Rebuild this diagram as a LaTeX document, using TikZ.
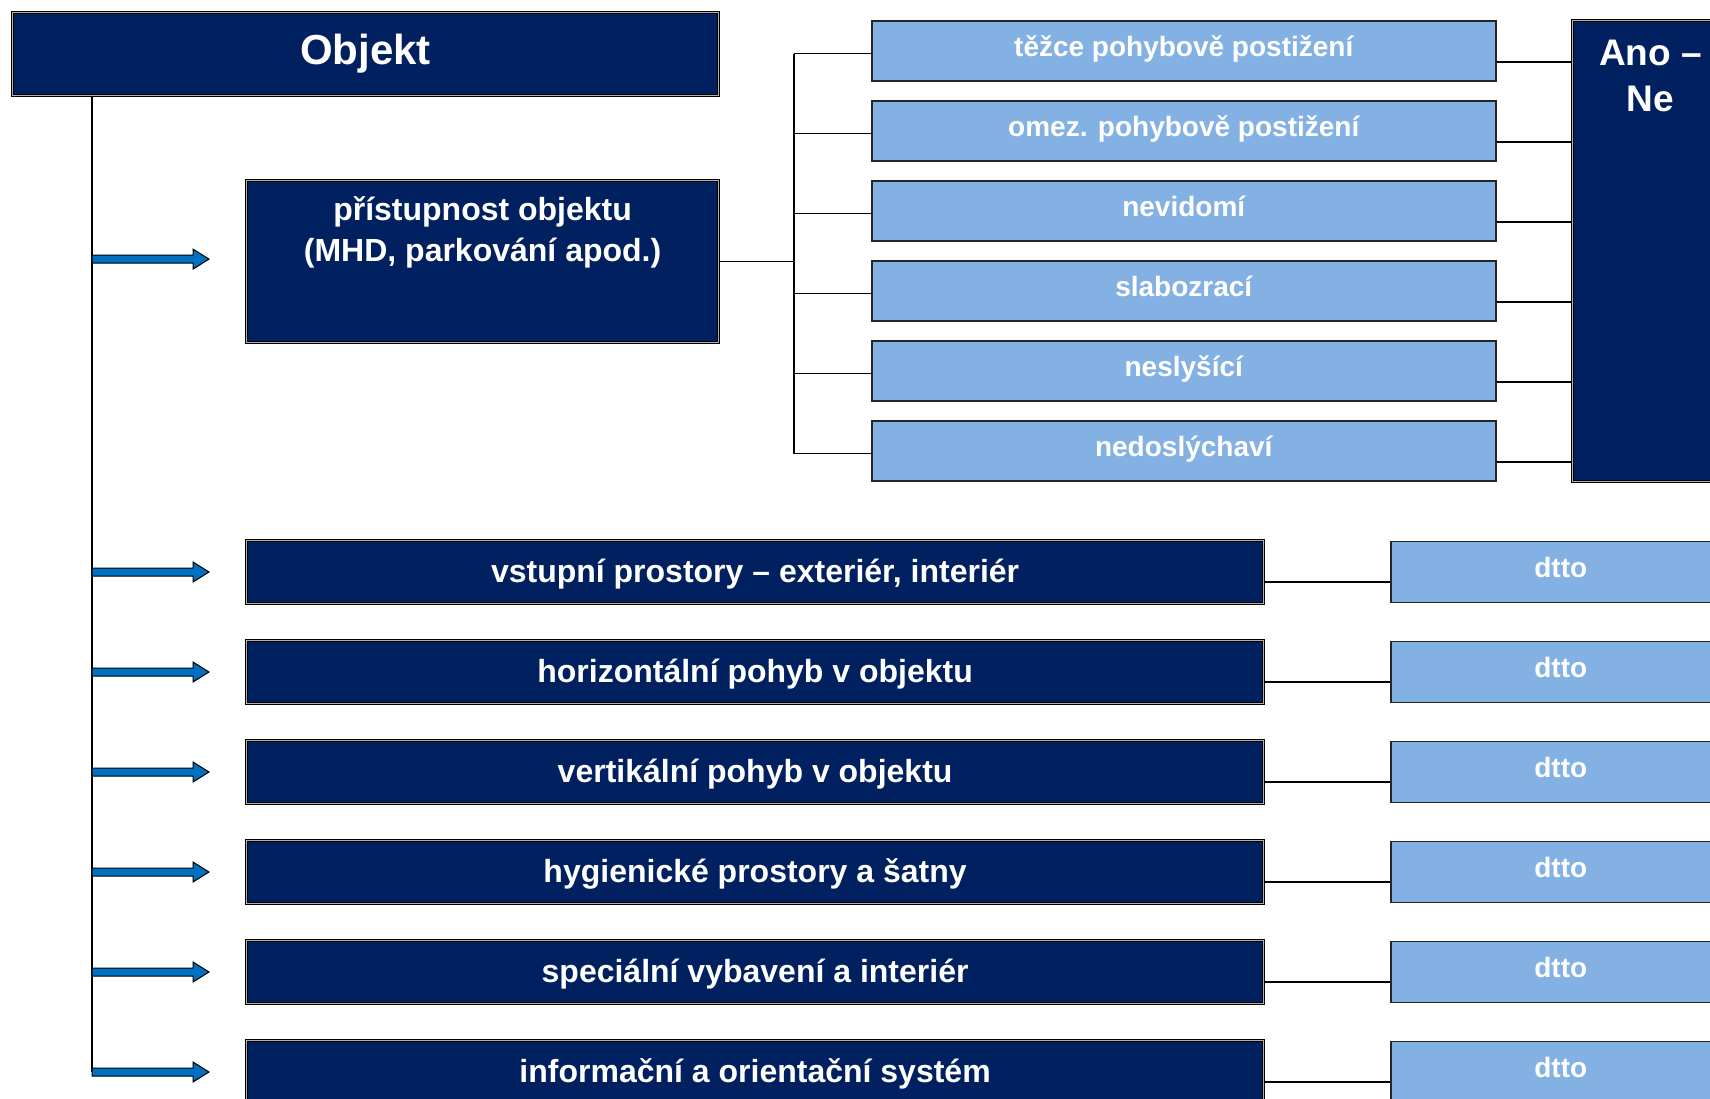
\documentclass[tikz,border=0pt]{standalone}
\usepackage{fontspec}
\setmainfont{Liberation Sans}
\usetikzlibrary{positioning,calc}
\definecolor{navy}{RGB}{0,32,96}
\definecolor{lightblue}{RGB}{131,177,227}
\definecolor{arrowblue}{RGB}{0,112,192}

\tikzset{
	darkbox/.style={draw=black, line width=1.2pt, double=gray!60, double distance=0.8pt,
		fill=navy, text=white, inner sep=0pt},
	rowbox/.style={darkbox, minimum width=1017pt, minimum height=63pt,
		text height=26pt, text depth=6pt,
		font=\bfseries\fontsize{32}{40}\selectfont},
	lightbox/.style={draw=black!85, line width=1.5pt, fill=lightblue, text=white,
		inner sep=0pt, minimum width=624pt, minimum height=60pt,
		text height=18pt, text depth=7pt,
		font=\bfseries\fontsize{28}{34}\selectfont},
	dttobox/.style={lightbox, minimum width=340pt, minimum height=61pt},
	link/.style={black, line width=1.5pt}
}

\begin{document}
\begin{tikzpicture}[x=1pt,y=-1pt]
	
	\useasboundingbox (0,0) rectangle (1710,1098);
	\clip (0,0) rectangle (1710,1098);
	
	% Top box and trunk
	\node[darkbox, anchor=north west, minimum width=706pt, minimum height=83pt,
	font=\bfseries\fontsize{42}{50}\selectfont] (objekt) at (12,12) {Objekt};
	\coordinate (trunk) at ($(objekt.south west)+(80,0)$);
	
	% Block arrow macro: tail at (#1)
	\newcommand{\fatarrow}[1]{%
		\draw[line width=1pt, fill=arrowblue] (#1) ++(0,-4) -- ++(101,0) -- ++(0,-6)
		-- ++(16,10) -- ++(-16,10) -- ++(0,-6) -- ++(-101,0) -- cycle;
	}
	
	% Accessibility box
	\node[darkbox, anchor=north west, minimum width=472pt, minimum height=162pt] (pristup) at (246,180) {};
	\node[text=white, align=center, anchor=north, inner sep=0pt,
	font=\bfseries\fontsize{32}{41}\selectfont] (pristuptext) at ($(pristup.north)+(0,16)$)
	{přístupnost objektu\\(MHD, parkování apod.)};
	
	% Groups of users
	\foreach \lbl [count=\i] in {těžce pohybově postižení, omez. pohybově postižení,
		nevidomí, slabozrací, neslyšící, nedoslýchaví}
	\node[lightbox, anchor=west] (b\i) at (871,{51+80*(\i-1)}) {\lbl};
	
	% Yes / no box (runs off the page)
	\node[darkbox, anchor=north west, minimum width=156pt, minimum height=461pt] (ano) at (1572,20) {};
	\node[text=white, align=center, anchor=north, inner sep=0pt,
	font=\bfseries\fontsize{37}{46}\selectfont] (anotext) at ($(ano.north)+(0,20)$) {Ano –\\Ne};
	
	% Fork from accessibility box to groups
	\coordinate (fork) at (794,0);
	\draw[link] (pristup.east) -- (fork |- pristup.east);
	\draw[link] ($(fork |- b1.west)+(0,2.5)$) -- ($(fork |- b6.west)+(0,2.5)$);
	\foreach \i in {1,...,6} {
		\draw[link] ($(fork |- b\i.west)+(0,2.5)$) -- ($(b\i.west)+(0,2.5)$);
		\draw[link] ($(b\i.east)+(0,11)$) -- (ano.west |- {$(b\i.east)+(0,11)$});
	}
	
	% Other parts of the building
	\foreach \lbl [count=\i] in {{vstupní prostory – exteriér, interiér},
		{horizontální pohyb v objektu}, {vertikální pohyb v objektu},
		{hygienické prostory a šatny}, {speciální vybavení a interiér},
		{informační a orientační systém}} {
		\node[rowbox, anchor=west] (r\i) at (246,{572+100*(\i-1)}) {\lbl};
		\node[dttobox, anchor=west] (d\i) at (1390,{572+100*(\i-1)}) {dtto};
		\draw[link] ($(r\i.east)+(0,10)$) -- ($(d\i.west)+(0,10)$);
	}
	
	% Trunk with arrows
	\draw[link] (trunk) -- (trunk |- r6.west);
	\fatarrow{$(trunk |- pristup.west)+(0,-2.5)$}
	\foreach \i in {1,...,6} {
		\fatarrow{trunk |- r\i.west}
	}
	
\end{tikzpicture}
\end{document}
